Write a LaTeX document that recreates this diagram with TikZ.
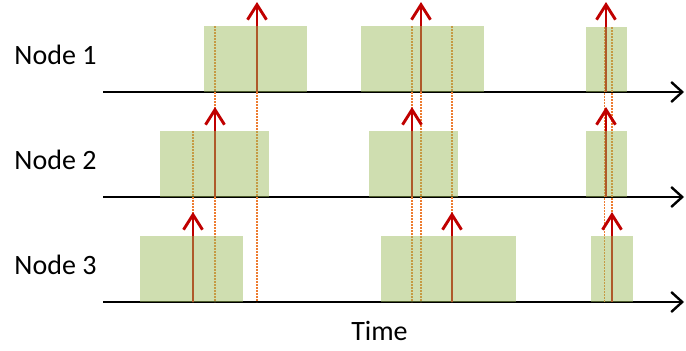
\documentclass[tikz,border=0pt]{standalone}
\usepackage{fontspec}
\setmainfont{Carlito}
\usetikzlibrary{arrows.meta}
\definecolor{slotgreen}{HTML}{9BBB59}
\definecolor{pulsered}{HTML}{C00000}
\definecolor{linkorange}{HTML}{ED7D31}
\begin{document}
\begin{tikzpicture}[x=1pt,y=-1pt,
  axisline/.style={draw=black,line width=2.4pt,-{Straight Barb[length=11pt,width=20pt]}},
  pulse/.style={draw=pulsered,line width=2.9pt,-{Straight Barb[length=15pt,width=19pt]}},
  echo/.style={draw=linkorange,line width=1.7pt,dash pattern=on 1.8pt off 1.2pt},
  slot/.style={fill=slotgreen,fill opacity=0.48},
  label/.style={anchor=base,font=\fontsize{28}{34}\selectfont,inner sep=0pt}]
\useasboundingbox (0,0) rectangle (686,351);

% row labels and time label
\node[label] (n1) at (55.5,64) {Node 1};
\node[label] (n2) at (55.5,169) {Node 2};
\node[label] (n3) at (55.5,274) {Node 3};
\node[label] (time) at (379.5,340) {Time};

% time axes
\foreach \r/\y in {1/92,2/197,3/302}{
  \coordinate (s\r) at (103,\y);
  \coordinate (e\r) at (684,\y);
  \draw[axisline] (s\r) -- (e\r);
}

% propagation markers down to the last axis
\foreach \i/\x/\t in {a/193/131,b/215/26,c/257/26,d/412/26,e/421/26,f/452/26,g/604.5/27,h/612/27}{
  \coordinate (dt\i) at (\x,\t);
  \coordinate (db\i) at (\x,302);
  \draw[echo] (dt\i) -- (db\i);
}

% transmissions
\foreach \i/\x/\y in {p1/257/92,p2/421/92,p3/606/92,p4/215/197,p5/412/197,p6/606/197,p7/193/302,p8/452/302,p9/612/302}{
  \coordinate (\i b) at (\x,\y);
  \coordinate (\i t) at (\x,\y-90);
  \draw[pulse] (\i b) -- (\i t);
}

% busy slots
\fill[slot] (204,26) rectangle (307,92);
\fill[slot] (361,26) rectangle (484,92);
\fill[slot] (586,27) rectangle (627,92);
\fill[slot] (160,131) rectangle (269,197);
\fill[slot] (369,131) rectangle (458,197);
\fill[slot] (586,131) rectangle (627,197);
\fill[slot] (140,236) rectangle (243,302);
\fill[slot] (381,236) rectangle (516,302);
\fill[slot] (591,236) rectangle (633,302);
\end{tikzpicture}
\end{document}
